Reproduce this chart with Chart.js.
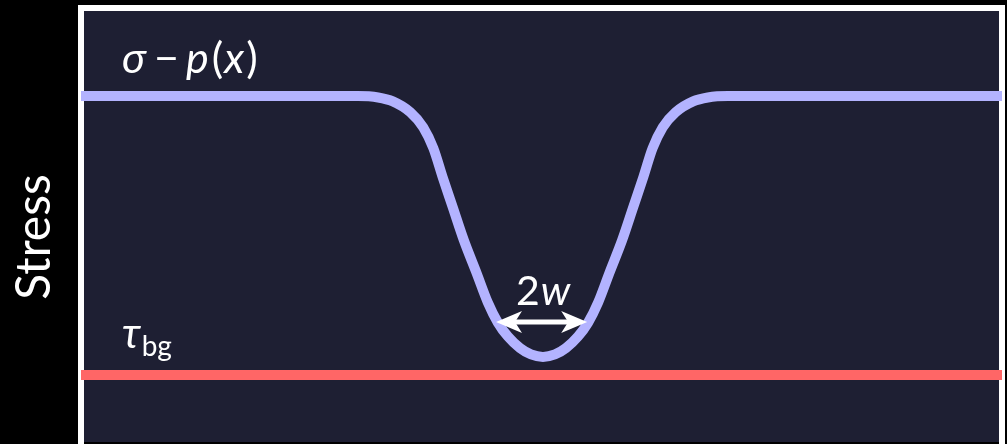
<!DOCTYPE html>
<html><head><meta charset="utf-8">
<script src="https://cdn.jsdelivr.net/npm/chart.js@4.4.1/dist/chart.umd.min.js"></script>
<style>html,body{margin:0;padding:0;background:#000;overflow:hidden}canvas{display:block}</style>
</head><body>
<canvas id="c" width="1007" height="444"></canvas>
<script>
// Position along the fault (arbitrary units) and effective normal stress sigma - p(x)
const positions = [-5.016, -2.01, -1.79, -1.63, -1.44, -1.30, -1.19, -1.09, -0.98, -0.86, -0.72, -0.60, -0.49, -0.38, -0.25, -0.13, 0,
                   0.13, 0.25, 0.38, 0.49, 0.60, 0.72, 0.86, 0.98, 1.09, 1.19, 1.30, 1.44, 1.63, 1.79, 2.01, 4.984];
const effectiveStress = [1.0, 1.0, 0.995, 0.981, 0.942, 0.888, 0.813, 0.710, 0.602, 0.484, 0.365, 0.261, 0.188, 0.138, 0.097, 0.074, 0.065,
                   0.074, 0.097, 0.138, 0.188, 0.261, 0.365, 0.484, 0.602, 0.710, 0.813, 0.888, 0.942, 0.981, 0.995, 1.0, 1.0];
// Background shear stress tau_bg (constant)
const bgPositions = [-5.016, 4.984];
const bgStress = [0, 0];
// 2w marker endpoints and level
const widthMarkerX = [-0.51, 0.48];
const widthMarkerY = [0.19];

const yTitle = 'Stress';

const navy = '#1e1f33';
const blue = '#b3b3ff';
const red = '#ff6666';

const frame = {
  id: 'frame',
  beforeDraw(chart) {
    const c = chart.ctx;
    c.save();
    c.fillStyle = '#000'; c.fillRect(0, 0, chart.width, chart.height);
    c.fillStyle = '#fff'; c.fillRect(78, 5, 927, 439);
    c.fillStyle = navy; c.fillRect(84, 11, 915, 431);
    c.fillStyle = '#000'; c.fillRect(84, 442, 915, 2);
    c.restore();
  }
};

function runs(c, x, y, parts, size) {
  for (const p of parts) {
    c.font = (p.i ? 'italic ' : '') + size + 'px Lato';
    c.fillText(p.t, x, y);
    x += c.measureText(p.t).width + (p.g || 0);
  }
}

const labels = {
  id: 'labels',
  afterDatasetsDraw(chart) {
    const c = chart.ctx, xs = chart.scales.x, ys = chart.scales.y;
    c.save();
    c.fillStyle = '#fff';
    c.textBaseline = 'alphabetic';
    c.textAlign = 'left';
    // sigma - p(x)
    runs(c, xs.getPixelForValue(-4.57), ys.getPixelForValue(1.082), [
      {t: 'σ', i: true, g: 8}, {t: '−', g: 7}, {t: 'p', i: true, g: 3}, {t: '(', g: 1}, {t: 'x', i: true, g: 2}, {t: ')'}
    ], 43);
    // tau_bg
    const tx = xs.getPixelForValue(-4.57), ty = ys.getPixelForValue(0.097);
    c.font = 'italic 43px Lato';
    c.fillText('τ', tx, ty);
    const tw = c.measureText('τ').width;
    c.font = '28px Lato';
    c.fillText('bg', tx + tw + 1, ty + 8);
    // 2w
    const ay = ys.getPixelForValue(widthMarkerY[0]);
    const x1 = xs.getPixelForValue(widthMarkerX[0]), x2 = xs.getPixelForValue(widthMarkerX[1]);
    c.font = '41px Lato';
    const w2 = c.measureText('2').width;
    c.font = 'italic 41px Lato';
    const ww = c.measureText('w').width;
    const sx = (x1 + x2) / 2 + 1 - (w2 + ww) / 2;
    c.font = '41px Lato'; c.fillText('2', sx, ay - 17);
    c.font = 'italic 41px Lato'; c.fillText('w', sx + w2 + 1, ay - 17);
    // arrow
    c.strokeStyle = '#fff'; c.lineWidth = 5;
    c.beginPath(); c.moveTo(x1 + 15, ay); c.lineTo(x2 - 15, ay); c.stroke();
    const head = (tip, dir) => {
      c.beginPath();
      c.moveTo(tip, ay);
      c.lineTo(tip + dir * 26, ay - 11);
      c.lineTo(tip + dir * 19, ay);
      c.lineTo(tip + dir * 26, ay + 11);
      c.closePath(); c.fill();
    };
    head(x1, 1); head(x2, -1);
    // y title
    c.translate(50, 237);
    c.rotate(-Math.PI / 2);
    c.textAlign = 'center';
    c.font = '48px Lato';
    c.fillText(yTitle, 0, 0);
    c.restore();
  }
};

new Chart(document.getElementById('c'), {
  type: 'scatter',
  data: {
    datasets: [
      {
        data: bgPositions.map((x, i) => ({x, y: bgStress[i]})),
        showLine: true, borderColor: red, borderWidth: 10, pointRadius: 0, borderCapStyle: 'butt'
      },
      {
        data: positions.map((x, i) => ({x, y: effectiveStress[i]})),
        showLine: true, borderColor: blue, borderWidth: 10, pointRadius: 0,
        cubicInterpolationMode: 'monotone', borderJoinStyle: 'round', borderCapStyle: 'butt'
      }
    ]
  },
  options: {
    responsive: false,
    animation: false,
    devicePixelRatio: 1,
    layout: {padding: {left: 81, right: 5, top: 11, bottom: 2}},
    scales: {
      x: {type: 'linear', min: -5.016, max: 4.984, display: false},
      y: {type: 'linear', min: -0.24, max: 1.305, display: false}
    },
    plugins: {legend: {display: false}, tooltip: {enabled: false}},
    events: []
  },
  plugins: [frame, labels]
});
</script>
</body></html>
